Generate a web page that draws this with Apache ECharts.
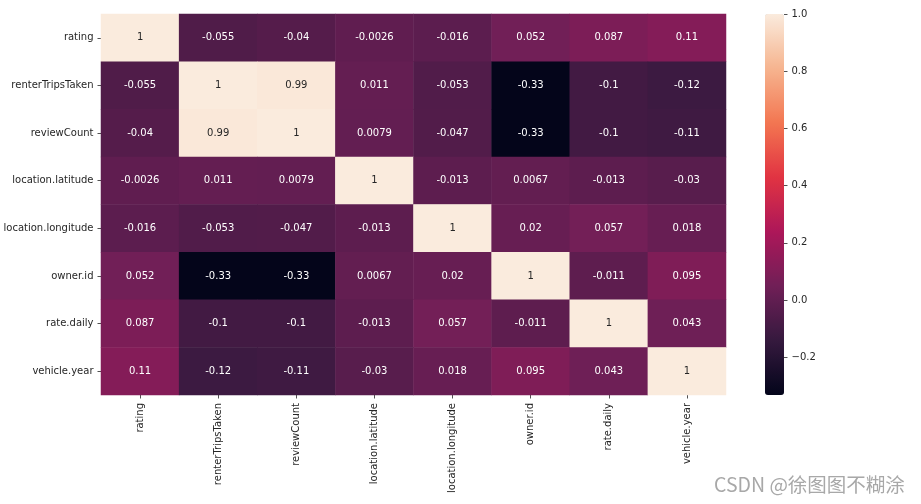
<!DOCTYPE html>
<html>
<head>
<meta charset="utf-8">
<script src="https://cdn.jsdelivr.net/npm/echarts@6/dist/echarts.min.js"></script>
<style>html,body{margin:0;padding:0;background:#fff}#c{width:921px;height:504px}</style>
</head>
<body>
<div id="c"></div>
<script>
const labels = ['rating','renterTripsTaken','reviewCount','location.latitude','location.longitude','owner.id','rate.daily','vehicle.year'];
const row_rating = [1, -0.055, -0.04, -0.0026, -0.016, 0.052, 0.087, 0.11];
const row_renterTripsTaken = [-0.055, 1, 0.99, 0.011, -0.053, -0.33, -0.1, -0.12];
const row_reviewCount = [-0.04, 0.99, 1, 0.0079, -0.047, -0.33, -0.1, -0.11];
const row_latitude = [-0.0026, 0.011, 0.0079, 1, -0.013, 0.0067, -0.013, -0.03];
const row_longitude = [-0.016, -0.053, -0.047, -0.013, 1, 0.02, 0.057, 0.018];
const row_ownerId = [0.052, -0.33, -0.33, 0.0067, 0.02, 1, -0.011, 0.095];
const row_rateDaily = [0.087, -0.1, -0.1, -0.013, 0.057, -0.011, 1, 0.043];
const row_vehicleYear = [0.11, -0.12, -0.11, -0.03, 0.018, 0.095, 0.043, 1];
const colorbarTicks = [-0.2, 0, 0.2, 0.4, 0.6, 0.8, 1.0];
const vMin = -0.332, vMax = 1.0;

const rows = [row_rating,row_renterTripsTaken,row_reviewCount,row_latitude,row_longitude,row_ownerId,row_rateDaily,row_vehicleYear];
const rocket = ['#03051A','#35193e','#701f57','#ad1759','#e13342','#f37651','#f6b48f','#FAEBDD'];
const FONT = 'DejaVu Sans';
const data = [];
rows.forEach((r, yi) => r.forEach((v, xi) => {
  data.push({value: [xi, yi, v], label: {color: v > 0.6 ? '#262626' : '#ffffff'}});
}));

const chart = echarts.init(document.getElementById('c'), null, {renderer: 'canvas'});
chart.setOption({
  animation: false,
  backgroundColor: '#ffffff',
  textStyle: {fontFamily: FONT},
  grid: [
    {left: 101, top: 14, width: 625, height: 381},
    {left: 784, top: 14, width: 19, height: 381}
  ],
  xAxis: [
    {type: 'category', data: labels, gridIndex: 0,
     axisLine: {show: false},
     axisTick: {show: true, alignWithLabel: true, length: 3.5, lineStyle: {color: '#262626', width: 0.8}},
     axisLabel: {rotate: 90, margin: 8, fontSize: 10, color: '#262626', fontFamily: FONT, interval: 0},
     splitLine: {show: false}},
    {type: 'value', gridIndex: 1, show: false, min: 0, max: 1}
  ],
  yAxis: [
    {type: 'category', data: labels, inverse: true, gridIndex: 0,
     axisLine: {show: false},
     axisTick: {show: true, alignWithLabel: true, length: 3.5, lineStyle: {color: '#262626', width: 0.8}},
     axisLabel: {margin: 7.5, fontSize: 10, color: '#262626', fontFamily: FONT, interval: 0},
     splitLine: {show: false}},
    {type: 'value', gridIndex: 1, position: 'left', min: vMin, max: vMax,
     axisLine: {show: false},
     splitLine: {show: false},
     axisTick: {show: true, inside: true, length: 3.5, customValues: colorbarTicks, lineStyle: {color: '#262626', width: 0.8}},
     axisLabel: {inside: true, margin: 7.5, fontSize: 10, color: '#262626', fontFamily: FONT, customValues: colorbarTicks,
       formatter: v => v.toFixed(1).replace('-', '\u2212')}}
  ],
  visualMap: {
    type: 'continuous', seriesIndex: 0, min: vMin, max: vMax,
    orient: 'vertical', left: 765, top: 14, itemWidth: 19, itemHeight: 381,
    padding: 0, calculable: false, hoverLink: false,
    indicatorIcon: 'none', indicatorSize: 0,
    inRange: {color: rocket}
  },
  series: [{
    type: 'heatmap', xAxisIndex: 0, yAxisIndex: 0, data: data,
    label: {show: true, fontSize: 10, fontFamily: FONT,
      formatter: p => String(p.value[2])},
    itemStyle: {borderWidth: 0},
    emphasis: {disabled: true}
  }],
  graphic: [{
    type: 'text', left: 714, top: 475,
    style: {text: 'CSDN @徐图图不糊涂', font: '19.5px "Noto Sans CJK SC"', fill: '#a8a8a8'}
  }]
});
</script>
</body>
</html>
